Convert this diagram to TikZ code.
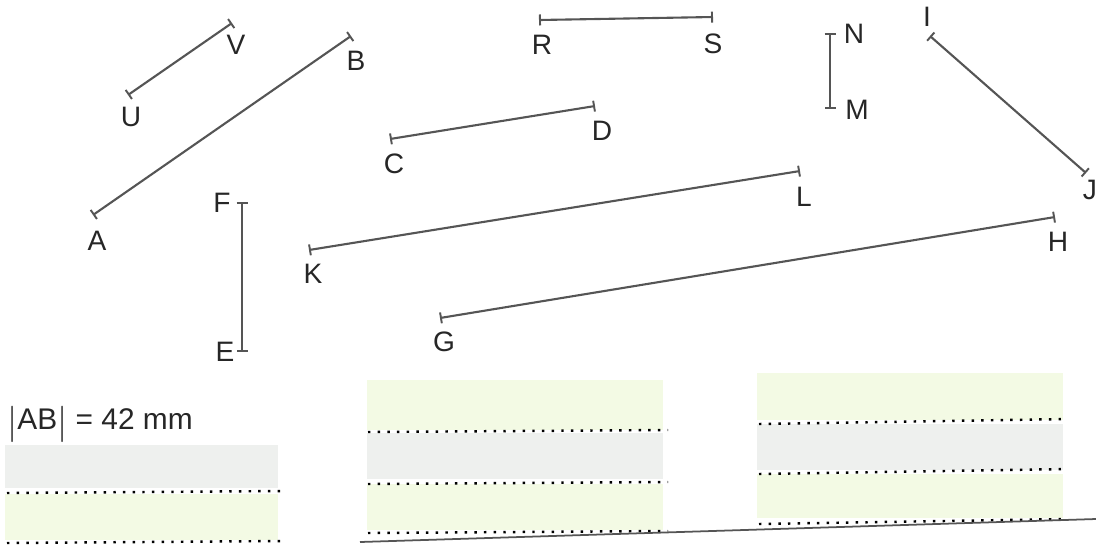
\documentclass[tikz,border=0pt]{standalone}
\usepackage{fontspec}
\setmainfont{Liberation Sans}
\usetikzlibrary{arrows.meta}
\definecolor{segcol}{HTML}{555555}
\definecolor{boxgray}{HTML}{EEF0EE}
\definecolor{boxgreen}{HTML}{F3FAE4}
\begin{document}
\begin{tikzpicture}[x=0.02cm, y=-0.02cm]
    \tikzset{seg/.style={draw=segcol, line width=1.2pt, {Bar[width=0.22cm, line width=1.1pt]}-{Bar[width=0.22cm, line width=1.1pt]}},
      lbl/.style={inner sep=0pt, font=\fontsize{16}{17}\selectfont, text=black!85},
      dots/.style={line width=1.4pt, dash pattern=on 1.4pt off 4.1pt},
      boxg/.style={fill=boxgray},
      boxv/.style={fill=boxgreen}};

    \useasboundingbox (0, 0) rectangle (1096, 549);

    % End points
    \path (128, 95) coordinate (U);
    \path (232, 23) coordinate (V);
    \path (93, 215) coordinate (A);
    \path (351, 36) coordinate (B);
    \path (242, 202) coordinate (F);
    \path (242, 352) coordinate (E);
    \path (539, 20) coordinate (R);
    \path (713, 17) coordinate (S);
    \path (830, 33) coordinate (N);
    \path (830, 109) coordinate (M);
    \path (930, 36) coordinate (I);
    \path (1086, 173) coordinate (J);
    \path (390, 139) coordinate (C);
    \path (595, 106) coordinate (D);
    \path (309, 250) coordinate (K);
    \path (800, 171) coordinate (L);
    \path (440, 318) coordinate (G);
    \path (1055, 217) coordinate (H);

    % Segments
    \foreach \i/\j in {U/V, A/B, F/E, R/S, N/M, I/J, C/D, K/L, G/H} { \draw[seg] (\i) -- (\j); }

    % Labels
    \foreach \n/\x/\y in {U/131/117, V/236/45, A/97/241, B/356/61, F/222/203, E/225/352,
      R/542/45, S/713/44, N/854/34, M/857/110, I/927/17, J/1090/190, C/394/164,
      D/602/131, K/313/274, L/804/197, G/444/342, H/1058/242}
      { \node[lbl] (l\n) at (\x, \y) {\n}; }

    % Answer boxes
    \fill[boxg] (5, 445) rectangle (278, 488);
    \fill[boxv] (5, 494) rectangle (278, 540);
    \fill[boxv] (367, 380) rectangle (663, 430);
    \fill[boxg] (367, 433) rectangle (663, 479);
    \fill[boxv] (367, 484) rectangle (663, 530);
    \fill[boxv] (757, 373) rectangle (1063, 420);
    \fill[boxg] (757, 424) rectangle (1063, 470);
    \fill[boxv] (757, 474) rectangle (1063, 518);

    \node[inner sep=0pt, anchor=west, font=\fontsize{17}{18}\selectfont, text=black!85] (given) at (7, 424)
      {\raisebox{-0.12em}{\fontsize{21}{21}\selectfont$|$}AB\raisebox{-0.12em}{\fontsize{21}{21}\selectfont$|$} = 42 mm};

    % Dotted lines
    \foreach \y in {493, 543} { \draw[dots] (7, \y) -- (282, \y - 2); }
    \foreach \y in {432, 484, 533} { \draw[dots] (368, \y) -- (668, \y - 2); }
    \foreach \y in {424, 474, 524} { \draw[dots] (759, \y) -- (1068, \y - 5); }

    % Base line
    \draw[segcol, line width=1pt] (360, 542) -- (1096, 519);
  \end{tikzpicture}
\end{document}
